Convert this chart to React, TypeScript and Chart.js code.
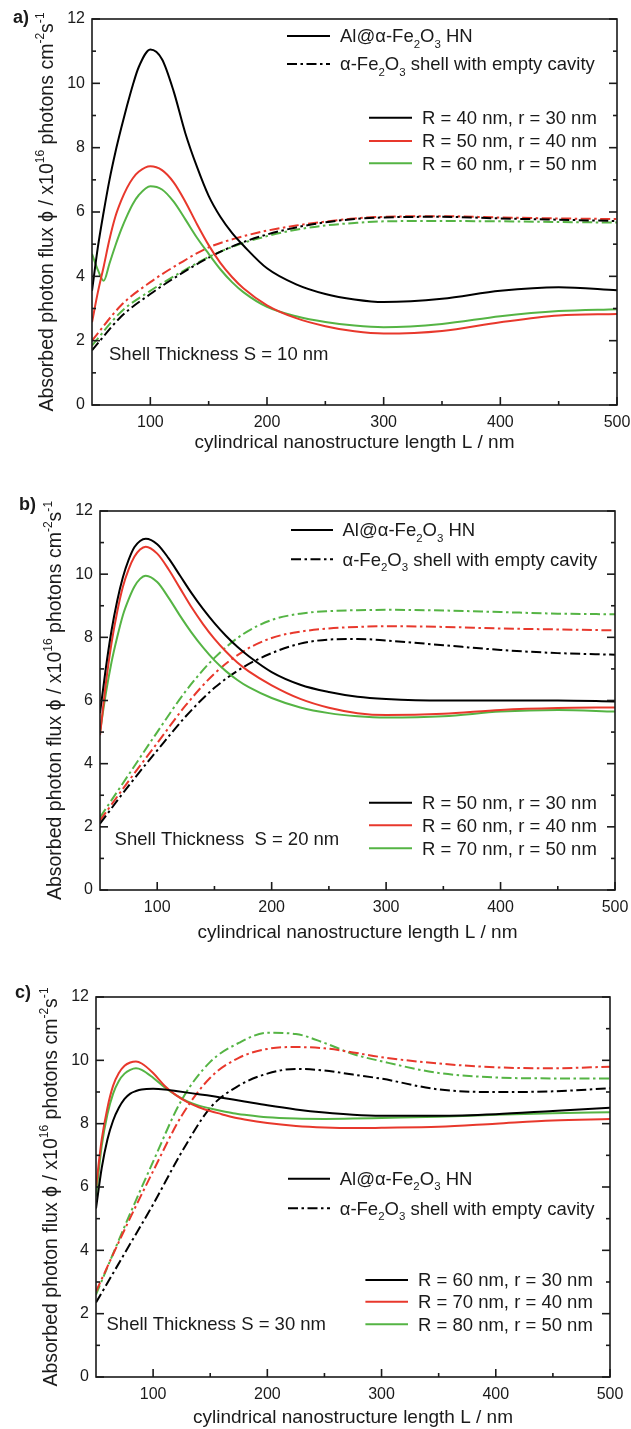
import React, { useEffect, useRef } from 'react';
import { Chart, registerables } from 'chart.js';

Chart.register(...registerables);

const FONT = '"Liberation Sans", Arial, Helvetica, sans-serif';
const TEXT = '#1a1a1a';
const COLORS = ['#000000', '#e8382c', '#55b444'];
const DASHDOT = [10, 3.5, 2.5, 3.5];

// ---------- data ----------
const xSolid = [50, 55, 60, 65, 70, 75, 80, 85, 90, 100, 110, 120, 130, 140, 150, 160, 170, 180, 200, 225, 250, 275, 300, 350, 400, 450, 500];
const xDash = [50, 75, 100, 125, 150, 175, 200, 225, 250, 275, 300, 350, 400, 450, 500];
const xTicks = [100, 200, 300, 400, 500];
const xMinorTicks = [150, 250, 350, 450];
const yTicks = [0, 2, 4, 6, 8, 10, 12];
const yMinorTicks = [1, 3, 5, 7, 9, 11];

// panel a (S = 10 nm)
const aSolidR40 = [3.55, 4.9, 6.0, 7.0, 7.85, 8.6, 9.3, 9.95, 10.5, 11.05, 10.75, 9.75, 8.45, 7.4, 6.5, 5.85, 5.35, 4.95, 4.25, 3.75, 3.45, 3.28, 3.2, 3.3, 3.55, 3.66, 3.57];
const aSolidR50 = [2.57, 3.5, 4.3, 5.15, 5.85, 6.35, 6.75, 7.05, 7.25, 7.42, 7.3, 6.92, 6.32, 5.62, 4.97, 4.42, 3.98, 3.62, 3.1, 2.7, 2.45, 2.29, 2.22, 2.3, 2.57, 2.78, 2.83];
const aSolidR60 = [4.7, 4.2, 3.86, 4.4, 4.95, 5.45, 5.88, 6.25, 6.52, 6.8, 6.7, 6.32, 5.77, 5.2, 4.7, 4.22, 3.82, 3.5, 3.05, 2.76, 2.58, 2.47, 2.42, 2.52, 2.76, 2.92, 2.98];
const aDashR40 = [1.7, 2.75, 3.45, 4.05, 4.58, 5.0, 5.3, 5.52, 5.68, 5.78, 5.83, 5.85, 5.8, 5.76, 5.72];
const aDashR50 = [2.0, 3.1, 3.82, 4.4, 4.9, 5.2, 5.42, 5.58, 5.7, 5.8, 5.85, 5.87, 5.83, 5.8, 5.78];
const aDashR60 = [1.85, 2.9, 3.55, 4.1, 4.6, 4.98, 5.25, 5.45, 5.58, 5.66, 5.71, 5.72, 5.71, 5.69, 5.67];

// panel b (S = 20 nm)
const bSolidR50 = [5.6, 7.0, 8.2, 9.15, 9.9, 10.45, 10.85, 11.05, 11.12, 10.95, 10.5, 9.95, 9.4, 8.9, 8.45, 8.05, 7.7, 7.4, 6.9, 6.5, 6.27, 6.12, 6.05, 6.0, 6.0, 6.0, 5.97];
const bSolidR60 = [4.9, 6.5, 7.8, 8.8, 9.6, 10.15, 10.55, 10.78, 10.87, 10.65, 10.15, 9.55, 8.95, 8.42, 7.95, 7.55, 7.2, 6.92, 6.48, 6.05, 5.77, 5.6, 5.54, 5.58, 5.7, 5.76, 5.78];
const bSolidR70 = [5.0, 6.2, 7.2, 8.0, 8.7, 9.2, 9.6, 9.85, 9.95, 9.75, 9.25, 8.68, 8.15, 7.68, 7.27, 6.93, 6.65, 6.42, 6.08, 5.78, 5.6, 5.5, 5.46, 5.5, 5.65, 5.7, 5.65];
const bDashR50 = [2.1, 3.3, 4.42, 5.5, 6.4, 7.05, 7.5, 7.8, 7.93, 7.95, 7.9, 7.75, 7.6, 7.5, 7.45];
const bDashR60 = [2.2, 3.45, 4.65, 5.85, 6.85, 7.55, 7.98, 8.18, 8.28, 8.33, 8.35, 8.33, 8.28, 8.25, 8.22];
const bDashR70 = [2.3, 3.65, 5.0, 6.3, 7.35, 8.1, 8.55, 8.75, 8.83, 8.86, 8.87, 8.85, 8.8, 8.75, 8.73];

// panel c (S = 30 nm)
const cSolidR60 = [5.32, 6.6, 7.5, 8.1, 8.5, 8.78, 8.95, 9.03, 9.08, 9.1, 9.08, 9.03, 8.98, 8.93, 8.88, 8.82, 8.76, 8.7, 8.58, 8.45, 8.35, 8.28, 8.25, 8.25, 8.3, 8.4, 8.5];
const cSolidR70 = [6.0, 7.5, 8.5, 9.2, 9.6, 9.83, 9.93, 9.96, 9.9, 9.6, 9.2, 8.9, 8.68, 8.52, 8.4, 8.3, 8.2, 8.13, 8.02, 7.93, 7.88, 7.86, 7.87, 7.9, 8.0, 8.1, 8.15];
const cSolidR80 = [5.7, 7.3, 8.3, 8.95, 9.35, 9.58, 9.7, 9.75, 9.7, 9.45, 9.15, 8.9, 8.7, 8.57, 8.48, 8.4, 8.33, 8.28, 8.2, 8.16, 8.15, 8.16, 8.18, 8.22, 8.28, 8.33, 8.36];
const cDashR60 = [2.35, 3.9, 5.45, 7.1, 8.5, 9.2, 9.58, 9.73, 9.68, 9.55, 9.42, 9.08, 9.0, 9.02, 9.12];
const cDashR70 = [2.7, 4.65, 6.5, 8.25, 9.45, 10.08, 10.36, 10.42, 10.38, 10.25, 10.1, 9.9, 9.78, 9.75, 9.8];
const cDashR80 = [2.6, 4.75, 6.8, 8.75, 9.95, 10.55, 10.87, 10.83, 10.55, 10.2, 9.97, 9.6, 9.46, 9.43, 9.43];

// ---------- text ----------
const legendMain = ['Al@α-Fe_2O_3 HN', 'α-Fe_2O_3 shell with empty cavity'];
const xTitle = 'cylindrical nanostructure length L / nm';
const yTitle = 'Absorbed photon flux ϕ / x10^{16} photons cm^{-2}s^{-1}';
const aLabels = ['R = 40 nm, r = 30 nm', 'R = 50 nm, r = 40 nm', 'R = 60 nm, r = 50 nm'];
const bLabels = ['R = 50 nm, r = 30 nm', 'R = 60 nm, r = 40 nm', 'R = 70 nm, r = 50 nm'];
const cLabels = ['R = 60 nm, r = 30 nm', 'R = 70 nm, r = 40 nm', 'R = 80 nm, r = 50 nm'];

type Seg = { t: string; s?: 'sub' | 'sup' };
function parseRich(s: string): Seg[] {
  const segs: Seg[] = [];
  let buf = '';
  let i = 0;
  while (i < s.length) {
    const c = s[i];
    if (c === '_' || c === '^') {
      if (buf) { segs.push({ t: buf }); buf = ''; }
      let t: string;
      if (s[i + 1] === '{') {
        const j = s.indexOf('}', i + 2);
        t = s.slice(i + 2, j);
        i = j + 1;
      } else {
        t = s[i + 1];
        i += 2;
      }
      segs.push({ t, s: c === '_' ? 'sub' : 'sup' });
    } else {
      buf += c;
      i++;
    }
  }
  if (buf) segs.push({ t: buf });
  return segs;
}

function drawRich(ctx: CanvasRenderingContext2D, text: string, x: number, y: number, size: number, align: 'left' | 'center') {
  const segs = parseRich(text);
  const small = size * 0.62;
  let w = 0;
  for (const sg of segs) {
    ctx.font = `${sg.s ? small : size}px ${FONT}`;
    w += ctx.measureText(sg.t).width;
  }
  let cx = align === 'center' ? x - w / 2 : x;
  ctx.textAlign = 'left';
  ctx.textBaseline = 'alphabetic';
  for (const sg of segs) {
    ctx.font = `${sg.s ? small : size}px ${FONT}`;
    const dy = sg.s === 'sub' ? size * 0.28 : sg.s === 'sup' ? -size * 0.45 : 0;
    ctx.fillText(sg.t, cx, y + dy);
    cx += ctx.measureText(sg.t).width;
  }
}

type Panel = {
  id: string;
  tag: string;
  shell: string;
  labels: string[];
  solid: number[][];
  dash: number[][];
  top: number;
  h: number;
  area: { left: number; right: number; top: number; bottom: number };
  xTitleCenter: number;
  tagPos: [number, number];
  main: { x0: number; x1: number; tx: number; rows: number[] };
  series: { x0: number; x1: number; tx: number; rows: number[] };
  shellPos: [number, number];
};

const panels: Panel[] = [
  {
    id: 'a', tag: 'a)', shell: 'Shell Thickness S = 10 nm', labels: aLabels,
    solid: [aSolidR40, aSolidR50, aSolidR60], dash: [aDashR40, aDashR50, aDashR60],
    top: 0, h: 470, area: { left: 92, right: 617, top: 19, bottom: 405 }, xTitleCenter: 443,
    tagPos: [13, 18],
    main: { x0: 287, x1: 330, tx: 340, rows: [36, 64] },
    series: { x0: 369, x1: 412, tx: 422, rows: [117.7, 141, 163.3] },
    shellPos: [109, 354],
  },
  {
    id: 'b', tag: 'b)', shell: 'Shell Thickness  S = 20 nm', labels: bLabels,
    solid: [bSolidR50, bSolidR60, bSolidR70], dash: [bDashR50, bDashR60, bDashR70],
    top: 470, h: 480, area: { left: 100, right: 615, top: 41, bottom: 420 }, xTitleCenter: 463,
    tagPos: [19, 35.5],
    main: { x0: 291, x1: 333, tx: 342.5, rows: [60, 89.3] },
    series: { x0: 369, x1: 412, tx: 422, rows: [332.7, 355.3, 378.3] },
    shellPos: [114.6, 368.3],
  },
  {
    id: 'c', tag: 'c)', shell: 'Shell Thickness S = 30 nm', labels: cLabels,
    solid: [cSolidR60, cSolidR70, cSolidR80], dash: [cDashR60, cDashR70, cDashR80],
    top: 950, h: 479, area: { left: 96, right: 610, top: 47, bottom: 427 }, xTitleCenter: 468,
    tagPos: [15, 43],
    main: { x0: 288, x1: 330, tx: 339.7, rows: [228.7, 258.3] },
    series: { x0: 365.4, x1: 408, tx: 418, rows: [330, 351.7, 374.3] },
    shellPos: [106.5, 374],
  },
];

const TITLE_SIZE = 19;
const YTITLE_SIZE = 19.5;
const LEG_SIZE = 18.5;
const TICK_SIZE = 16;

function decorPlugin(p: Panel) {
  return {
    id: 'decor-' + p.id,
    afterDraw(chart: any) {
      const ctx: CanvasRenderingContext2D = chart.ctx;
      const a = chart.chartArea;
      const xs = chart.scales.x;
      const ys = chart.scales.y;
      ctx.save();
      ctx.strokeStyle = TEXT;
      ctx.lineWidth = 1.6;
      ctx.setLineDash([]);
      ctx.strokeRect(a.left, a.top, a.right - a.left, a.bottom - a.top);
      const seg = (x0: number, y0: number, x1: number, y1: number) => {
        ctx.beginPath();
        ctx.moveTo(x0, y0);
        ctx.lineTo(x1, y1);
        ctx.stroke();
      };
      xTicks.forEach((v) => { const px = xs.getPixelForValue(v); seg(px, a.bottom, px, a.bottom - 8); });
      xMinorTicks.forEach((v) => { const px = xs.getPixelForValue(v); seg(px, a.bottom, px, a.bottom - 4); });
      yTicks.forEach((v) => {
        const py = ys.getPixelForValue(v);
        seg(a.left, py, a.left + 8, py);
        seg(a.right, py, a.right - 8, py);
      });
      yMinorTicks.forEach((v) => {
        const py = ys.getPixelForValue(v);
        seg(a.left, py, a.left + 4, py);
        seg(a.right, py, a.right - 4, py);
      });

      ctx.fillStyle = TEXT;
      // y title
      ctx.save();
      ctx.translate(a.left - 39, (a.top + a.bottom) / 2);
      ctx.rotate(-Math.PI / 2);
      drawRich(ctx, yTitle, 0, 0, YTITLE_SIZE, 'center');
      ctx.restore();

      // panel tag
      ctx.font = `bold 18px ${FONT}`;
      ctx.textAlign = 'left';
      ctx.textBaseline = 'middle';
      ctx.fillText(p.tag, p.tagPos[0], p.tagPos[1]);

      // main legend
      ctx.lineWidth = 2;
      ctx.strokeStyle = '#000';
      p.main.rows.forEach((ry, i) => {
        ctx.setLineDash(i === 0 ? [] : DASHDOT);
        seg(p.main.x0, ry, p.main.x1, ry);
        ctx.setLineDash([]);
        drawRich(ctx, legendMain[i], p.main.tx, ry + LEG_SIZE * 0.35, LEG_SIZE, 'left');
      });
      // series legend
      p.series.rows.forEach((ry, i) => {
        ctx.strokeStyle = COLORS[i];
        seg(p.series.x0, ry, p.series.x1, ry);
        drawRich(ctx, p.labels[i], p.series.tx, ry + LEG_SIZE * 0.35, LEG_SIZE, 'left');
      });
      // shell thickness
      drawRich(ctx, p.shell, p.shellPos[0], p.shellPos[1] + LEG_SIZE * 0.35, LEG_SIZE, 'left');
      ctx.restore();
    },
  };
}

function PanelChart({ p }: { p: Panel }) {
  const ref = useRef<HTMLCanvasElement>(null);
  useEffect(() => {
    const canvas = ref.current!;
    const datasets: any[] = [];
    p.solid.forEach((vals, i) => {
      datasets.push({
        label: p.labels[i] + ' (Al@α-Fe2O3 HN)',
        data: xSolid.map((x, j) => ({ x, y: vals[j] })),
        borderColor: COLORS[i],
        borderWidth: 2,
        pointRadius: 0,
        fill: false,
        cubicInterpolationMode: 'monotone',
      });
    });
    p.dash.forEach((vals, i) => {
      datasets.push({
        label: p.labels[i] + ' (empty cavity)',
        data: xDash.map((x, j) => ({ x, y: vals[j] })),
        borderColor: COLORS[i],
        borderWidth: 2,
        borderDash: DASHDOT,
        pointRadius: 0,
        fill: false,
        cubicInterpolationMode: 'monotone',
      });
    });
    const chart = new Chart(canvas, {
      type: 'line',
      data: { datasets },
      options: {
        responsive: false,
        animation: false,
        devicePixelRatio: 1,
        layout: { padding: { left: 0, top: p.area.top, right: 631 - p.area.right, bottom: 0 } },
        plugins: { legend: { display: false }, tooltip: { enabled: false } },
        scales: {
          x: {
            type: 'linear',
            min: 50,
            max: 500,
            afterBuildTicks: (s: any) => { s.ticks = xTicks.map((v) => ({ value: v })); },
            afterFit: (s: any) => {
              s.height = p.h - p.area.bottom;
              s.paddingLeft = 0;
              s.paddingRight = 0;
            },
            grid: { display: false, drawTicks: false },
            border: { display: false },
            ticks: { color: TEXT, font: { family: FONT, size: TICK_SIZE }, padding: 8, maxRotation: 0, autoSkip: false },
            title: {
              display: true,
              text: xTitle,
              color: TEXT,
              font: { family: FONT, size: TITLE_SIZE },
              padding: { top: 0, bottom: Math.max(0, p.h - p.xTitleCenter - TITLE_SIZE * 0.6) },
            },
          },
          y: {
            type: 'linear',
            min: 0,
            max: 12,
            afterBuildTicks: (s: any) => { s.ticks = yTicks.map((v) => ({ value: v })); },
            afterFit: (s: any) => {
              s.width = p.area.left;
              s.paddingTop = 0;
              s.paddingBottom = 0;
            },
            grid: { display: false, drawTicks: false },
            border: { display: false },
            ticks: { color: TEXT, font: { family: FONT, size: TICK_SIZE }, padding: 7 },
          },
        },
      } as any,
      plugins: [decorPlugin(p)],
    });
    return () => chart.destroy();
  }, [p]);
  return (
    <canvas
      ref={ref}
      width={631}
      height={p.h}
      style={{ position: 'absolute', left: 0, top: p.top, width: 631, height: p.h, display: 'block' }}
    />
  );
}

export default function App() {
  return (
    <div style={{ position: 'absolute', left: 0, top: 0, width: 631, height: 1429, background: '#fff' }}>
      {panels.map((p) => (
        <PanelChart key={p.id} p={p} />
      ))}
    </div>
  );
}
